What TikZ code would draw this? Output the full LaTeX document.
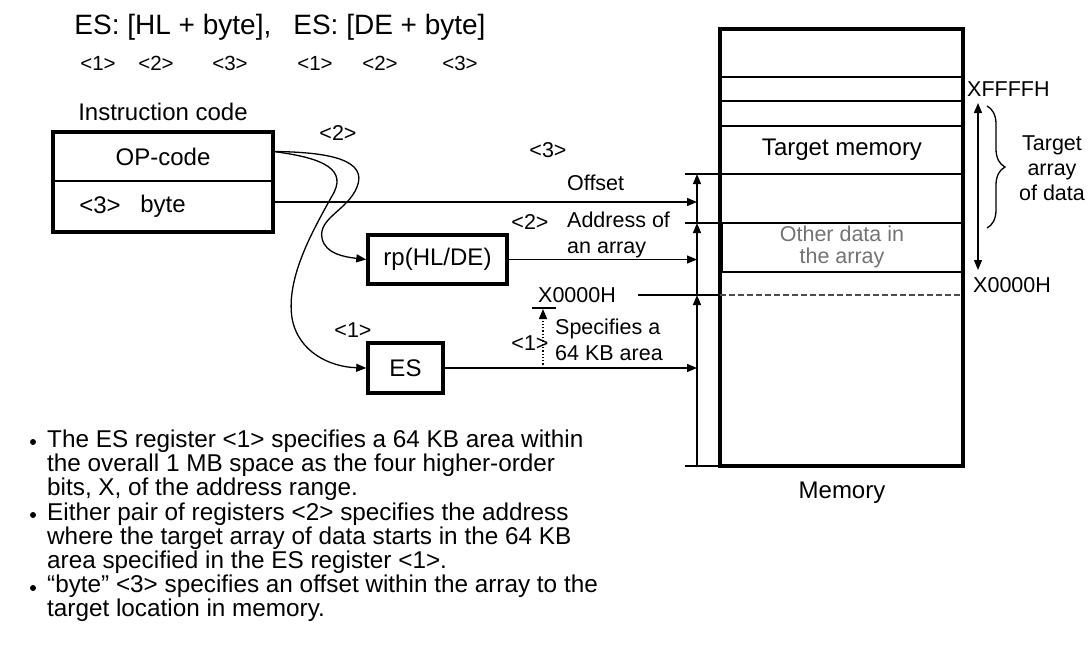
\documentclass[tikz,border=0pt]{standalone}
\usepackage{fontspec}
\setmainfont{Liberation Sans}
\usetikzlibrary{arrows.meta,decorations.pathreplacing}

\begin{document}
\begin{tikzpicture}[x=1pt, y=-1pt, >={Triangle[length=10pt,width=8pt]},
    txt/.style={inner sep=0pt, font=\fontsize{21.5}{26}\selectfont},
    bigtxt/.style={inner sep=0pt, font=\fontsize{24}{24}\selectfont},
    bullettxt/.style={inner sep=0pt, align=left, font=\fontsize{24.3}{24.2}\selectfont},
    regbox/.style={draw, line width=3.5pt, inner sep=0pt},
    link/.style={line width=1.3pt}]
    \useasboundingbox (0,0) rectangle (1088,646);

    % title and its tags
    \node[inner sep=0pt, font=\fontsize{28}{30}\selectfont] (title) at (280,27) {ES: [HL + byte],\hspace{22pt}ES: [DE + byte]};
    \foreach \n/\x/\t in {a/98/1, b/156/2, c/230/3, d/315/1, e/380/2, f/460/3}
        \node[inner sep=0pt, font=\fontsize{20.5}{22}\selectfont] (tag\n) at (\x,63) {<\t>};

    % instruction code
    \node[bigtxt] (inscap) at (163,112) {Instruction code};
    \node[bigtxt, minimum width=220pt, minimum height=49pt] (op) at (163,156.5) {OP-code};
    \node[bigtxt, minimum width=220pt, minimum height=51pt] (fld) at (163,206.5) {byte};
    \draw[line width=2pt] (op.south west) -- (op.south east);
    \draw[line width=3.5pt] (op.north west) rectangle (fld.south east);
    \node[bigtxt] (fldtag) at (100,205) {<3>};

    % registers
    \node[regbox, bigtxt, minimum width=139pt, minimum height=49pt] (rp) at (437.5,259.5) {rp(HL/DE)};
    \node[regbox, bigtxt, minimum width=75pt, minimum height=50pt] (es) at (405.5,368) {ES};

    % memory
    \node[draw, line width=3.5pt, minimum width=243pt, minimum height=437pt, inner sep=0pt] (mem) at (841.5,247.5) {};
    \foreach \y/\w in {77/1.2, 101/2, 126/2, 174/1.2, 223/2, 272/2}
        \draw[line width=\w pt] (720,\y) -- (963,\y);
    \draw[line width=4.5pt] (720.5,223) -- (720.5,272);
    \draw[dash pattern=on 6pt off 3pt, black!70, line width=1.5pt] (720,295) -- (963,295);
    \node[bigtxt] (tgt) at (842,150) {Target memory};
    \node[txt, align=center, text=black!55, font=\fontsize{21.5}{22}\selectfont] (other) at (842,247) {Other data in\\the array};
    \node[bigtxt] (memcap) at (842,493) {Memory};

    % right side
    \node[txt, anchor=west] (hi) at (967,89) {XFFFFH};
    \node[txt, anchor=west] (lo) at (973,285) {X0000H};
    \coordinate (rt) at (978,103);
    \coordinate (rb) at (978,270);
    \draw[<->, link] (rt) -- (rb);
    \draw[decorate, decoration={brace, amplitude=18pt}, line width=1.3pt] (987,106) -- (987,228);
    \node[txt, align=center, font=\fontsize{21.5}{25}\selectfont] (arr) at (1052,168) {Target\\array\\of data};

    % address arrows left of memory
    \coordinate (t1) at (697,174);
    \coordinate (t2) at (697,223);
    \coordinate (t3) at (697,295);
    \coordinate (t4) at (697,466);
    \foreach \y in {174,223,466}
        \draw[link] (685,\y) -- (720,\y);
    \draw[->, link] (t2) -- (t1);
    \draw[->, link] (t3) -- (t2);
    \draw[->, link] (t4) -- (t3);
    \node[txt, anchor=west] (base) at (538,295) {X0000H};
    \draw[link] ([xshift=22pt]base.east) -- (mem.west |- base.east);

    % inputs
    \coordinate (inoff) at (697,202);
    \coordinate (inadr) at (697,259.5);
    \coordinate (ines) at (697,368);
    \draw[->, link] ([yshift=4.5pt]fld.east) -- (inoff);
    \draw[->, link] (rp.east) -- (inadr);
    \draw[->, link] (es.east) -- (ines);
    \draw[->, link] ([yshift=5pt]op.east) .. controls (330,152) and (368,160) .. (357,187)
        .. controls (348,210) and (318,218) .. (322,238) .. controls (325,254) and (345,257) .. (rp.west);
    \draw[->, link] ([yshift=5pt]op.east) .. controls (325,158) and (348,170) .. (332,196)
        .. controls (312,232) and (286,278) .. (292,318) .. controls (298,352) and (330,367) .. (es.west);

    % labels
    \node[txt] (c2) at (338,133) {<2>};
    \node[txt] (c1) at (353,330) {<1>};
    \node[txt] (l3) at (548,150) {<3>};
    \node[txt, anchor=west] (offs) at (567,183) {Offset};
    \node[txt] (l2) at (530,222) {<2>};
    \node[txt, anchor=west, align=left] (adr) at (567,235) {Address of\\an array};
    \node[txt] (l1) at (530,343) {<1>};
    \node[txt, anchor=west, align=left] (spec) at (555,340) {Specifies a\\64 KB area};
    \coordinate (dotlo) at (543,368);
    \coordinate (dothi) at (543,309);
    \draw[->, dotted, line width=1.3pt] (dotlo) -- (dothi);
    \draw[link] (532,308) -- (556,308);

    % notes
    \foreach \y in {442,515,588}
        \fill (33,\y) circle (3pt);
    \node[bullettxt, anchor=west] (b1) at (47,465) {The ES register <1> specifies a 64 KB area within\\the overall 1 MB space as the four higher-order\\bits, X, of the address range.};
    \node[bullettxt, anchor=west] (b2) at (47,538) {Either pair of registers <2> specifies the address\\where the target array of data starts in the 64 KB\\area specified in the ES register <1>.};
    \node[bullettxt, anchor=west] (b3) at (47,598) {“byte” <3> specifies an offset within the array to the\\target location in memory.};
\end{tikzpicture}
\end{document}
